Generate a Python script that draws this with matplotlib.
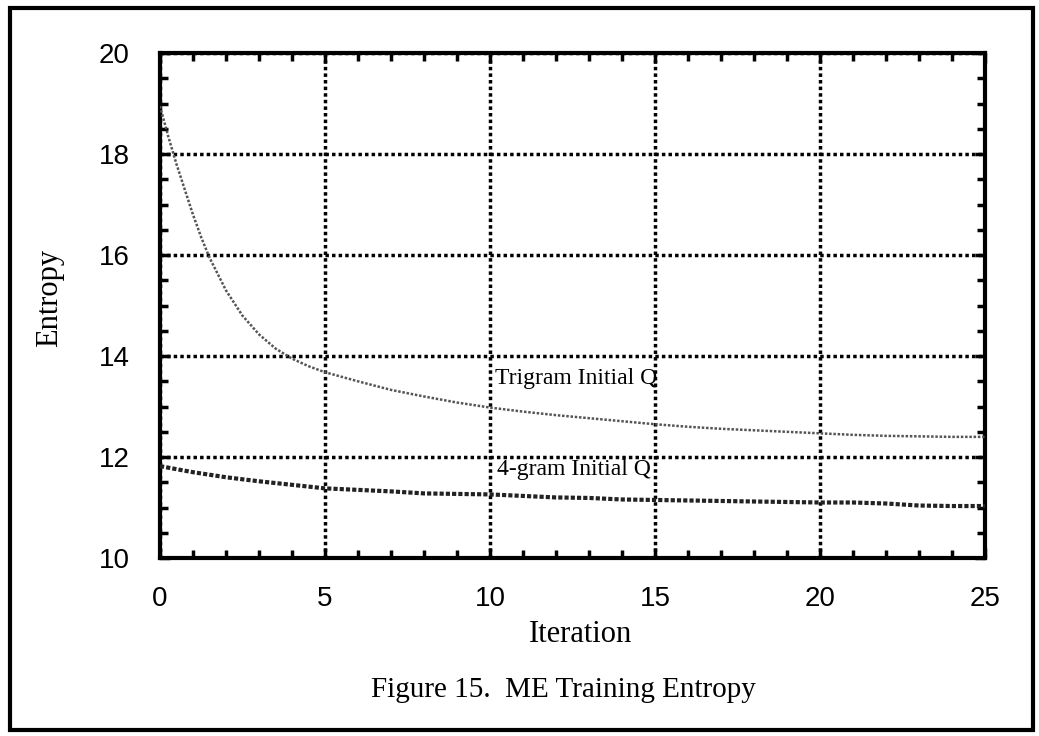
import matplotlib
matplotlib.use("Agg")
import matplotlib.pyplot as plt
from matplotlib.patches import Rectangle
from matplotlib.ticker import MultipleLocator

# values
tri_x = [0, 0.25, 0.5, 0.75, 1, 1.25, 1.5, 2, 2.5, 3, 3.5, 4, 4.5, 5, 6, 7,
         8, 9, 10, 11, 12, 13, 14, 15, 16, 17, 18, 19, 20, 21, 22, 23, 24, 25]
tri_y = [18.95, 18.35, 17.8, 17.3, 16.8, 16.35, 15.95, 15.3, 14.8, 14.43,
         14.15, 13.95, 13.8, 13.68, 13.5, 13.33, 13.2, 13.08, 12.98, 12.9,
         12.83, 12.77, 12.71, 12.65, 12.6, 12.56, 12.53, 12.5, 12.47, 12.44,
         12.42, 12.41, 12.4, 12.4]

four_x = list(range(26))
four_y = [11.82, 11.7, 11.6, 11.52, 11.45, 11.38, 11.35, 11.32, 11.28, 11.27,
          11.26, 11.23, 11.2, 11.19, 11.16, 11.15, 11.14, 11.13, 11.12, 11.11,
          11.1, 11.1, 11.08, 11.04, 11.03, 11.03]

xticks = [0, 5, 10, 15, 20, 25]
yticks = [10, 12, 14, 16, 18, 20]

serif = "Liberation Serif"
sans = "Liberation Sans"

fig = plt.figure(figsize=(10.39, 7.36), dpi=100)
ax = fig.add_axes([0.154, 0.2418, 0.794, 0.686])

ax.plot(tri_x, tri_y, color="#555555", lw=1.8, ls=(0, (1, 0.7)), zorder=3)
ax.plot(four_x, four_y, color="#222222", lw=3.0, ls=(0, (1, 0.5)), zorder=3)

ax.set_xlim(0, 25)
ax.set_ylim(10, 20)
ax.set_xticks(xticks)
ax.set_yticks(yticks)
ax.xaxis.set_minor_locator(MultipleLocator(1))
ax.yaxis.set_minor_locator(MultipleLocator(0.5))

ax.grid(True, which="major", color="black", lw=2.5, ls=(0, (1, 0.9)))
for sp in ax.spines.values():
    sp.set_linewidth(3)

ax.tick_params(which="both", direction="in", top=True, right=True, width=2.5)
ax.tick_params(which="major", length=7)
ax.tick_params(which="minor", length=6)
ax.tick_params(axis="y", which="major", pad=22)
ax.tick_params(axis="x", which="major", pad=20)
for lab in ax.get_xticklabels() + ax.get_yticklabels():
    lab.set_fontfamily(sans)
    lab.set_fontsize(20)

ax.text(10.15, 13.56, "Trigram Initial Q", family=serif, fontsize=17,
        va="center", ha="left", zorder=4)
ax.text(10.2, 11.76, "4-gram Initial Q", family=serif, fontsize=17,
        va="center", ha="left", zorder=4)

fig.text(50 / 1039, 1 - 298 / 736, "Entropy", family=serif, fontsize=22,
         rotation=90, ha="center", va="center")
fig.text(580 / 1039, 1 - 635 / 736, "Iteration", family=serif, fontsize=22,
         ha="center", va="center")
fig.text(563 / 1039, 1 - 690 / 736, "Figure 15.  ME Training Entropy",
         family=serif, fontsize=21, ha="center", va="center")

# outer frame round the whole figure
fig.patches.append(Rectangle((10 / 1039, 1 - 730 / 736), 1023 / 1039, 722 / 736,
                             transform=fig.transFigure, fill=False,
                             lw=3, edgecolor="black"))

fig.savefig("out.png", dpi=100)
